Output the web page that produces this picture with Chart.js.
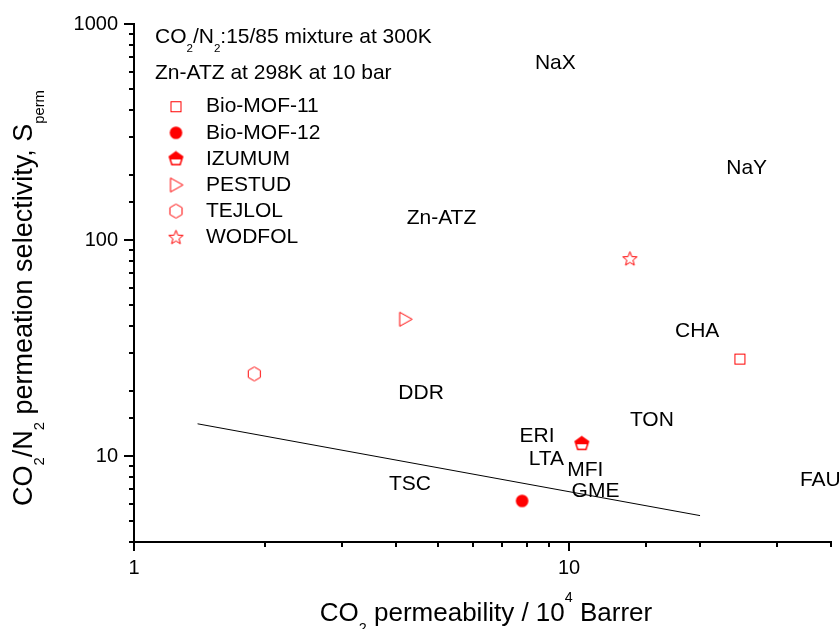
<!DOCTYPE html>
<html>
<head>
<meta charset="utf-8">
<script src="https://cdn.jsdelivr.net/npm/chart.js@4.4.0/dist/chart.umd.min.js"></script>
<style>
  html, body { margin: 0; padding: 0; background: #fff; }
  #wrap { width: 839px; height: 629px; }
</style>
</head>
<body>
<div id="wrap"><canvas id="chart" width="839" height="629"></canvas></div>
<script>
// MOF membranes (red markers)
const mofNames = ['Bio-MOF-11', 'Bio-MOF-12', 'IZUMUM', 'PESTUD', 'TEJLOL', 'WODFOL'];
const mofPermeability = [24.7, 7.8, 10.7, 4.2, 1.89, 13.8];
const mofSelectivity = [28.1, 6.2, 11.4, 43, 24, 82];
const mofMarkers = ['square', 'circle', 'pentagon', 'triangle', 'hexagon', 'star'];

// zeolite membranes (text labels)
const zeoliteNames = ['NaX', 'NaY', 'Zn-ATZ', 'CHA', 'DDR', 'TON', 'ERI', 'LTA', 'MFI', 'GME', 'TSC', 'FAU'];
const zeolitePermeability = [9.3, 25.6, 5.09, 19.7, 4.57, 15.5, 8.44, 8.87, 10.9, 11.5, 4.31, 37.8];
const zeoliteSelectivity = [657, 215, 126, 37.9, 19.6, 14.6, 12.4, 9.7, 8.6, 6.9, 7.4, 7.7];

// upper bound line
const boundPermeability = [1.4, 20];
const boundSelectivity = [14.1, 5.3];

const xTickLabels = [1, 10];
const yTickLabels = [10, 100, 1000];

const FONT = '"Liberation Sans", Arial, Helvetica, sans-serif';
const RED = '#ff0000';

function makeMarker(kind) {
  const c = document.createElement('canvas');
  c.width = 17; c.height = 17;
  const g = c.getContext('2d');
  const cx = 8.5, cy = 8.5;
  g.strokeStyle = RED; g.fillStyle = RED; g.lineWidth = 1;
  const poly = (n, r, start) => {
    g.beginPath();
    for (let i = 0; i < n; i++) {
      const a = start + i * 2 * Math.PI / n;
      const px = cx + r * Math.cos(a), py = cy + r * Math.sin(a);
      if (i === 0) g.moveTo(px, py); else g.lineTo(px, py);
    }
    g.closePath();
  };
  if (kind === 'square') {
    g.strokeRect(3.5, 3.5, 10, 10);
  } else if (kind === 'circle') {
    g.beginPath(); g.arc(cx, cy, 6.3, 0, Math.PI * 2); g.fill();
  } else if (kind === 'pentagon') {
    g.save();
    g.beginPath(); g.rect(0, 0, 17, cy + 0.5); g.clip();
    poly(5, 7, -Math.PI / 2); g.fill();
    g.restore();
    g.lineWidth = 1.5;
    poly(5, 7, -Math.PI / 2); g.stroke();
  } else if (kind === 'triangle') {
    g.beginPath();
    g.moveTo(cx + 7, cy); g.lineTo(cx - 5.5, cy - 7); g.lineTo(cx - 5.5, cy + 7); g.closePath();
    g.stroke();
  } else if (kind === 'hexagon') {
    poly(6, 7, -Math.PI / 2); g.stroke();
  } else if (kind === 'star') {
    g.beginPath();
    for (let i = 0; i < 10; i++) {
      const r = i % 2 === 0 ? 7.5 : 3.2;
      const a = -Math.PI / 2 + i * Math.PI / 5;
      const px = cx + r * Math.cos(a), py = cy + 0.5 + r * Math.sin(a);
      if (i === 0) g.moveTo(px, py); else g.lineTo(px, py);
    }
    g.closePath(); g.stroke();
  }
  return c;
}

const markerImages = mofMarkers.map(makeMarker);

function isPow10(v) {
  const l = Math.log10(v);
  return Math.abs(l - Math.round(l)) < 1e-9;
}

function drawRich(ctx, parts, x, y, size, align) {
  let total = 0;
  const items = parts.map(([t, m]) => {
    const s = m === 'n' ? size : size * 0.55;
    ctx.font = s + 'px ' + FONT;
    const w = ctx.measureText(t).width;
    total += w;
    return { t, m, s, w };
  });
  let cx = align === 'center' ? x - total / 2 : x;
  ctx.textAlign = 'left';
  ctx.textBaseline = 'alphabetic';
  items.forEach(p => {
    ctx.font = p.s + 'px ' + FONT;
    const dy = p.m === 'sub' ? size * 0.45 : p.m === 'sup' ? -size * 0.72 : 0;
    ctx.fillText(p.t, cx, y + dy);
    cx += p.w;
  });
}

const extras = {
  id: 'extras',
  afterDraw(chart) {
    const ctx = chart.ctx;
    const area = chart.chartArea;
    const xs = chart.scales.x, ys = chart.scales.y;
    ctx.save();

    // tick marks, major longer than minor
    ctx.strokeStyle = '#000';
    ctx.lineWidth = 2;
    ctx.beginPath();
    xs.ticks.forEach(t => {
      const p = Math.round(xs.getPixelForValue(t.value));
      ctx.moveTo(p, area.bottom);
      ctx.lineTo(p, area.bottom + (isPow10(t.value) ? 9 : 5));
    });
    ys.ticks.forEach(t => {
      const p = Math.round(ys.getPixelForValue(t.value));
      ctx.moveTo(area.left, p);
      ctx.lineTo(area.left - (isPow10(t.value) ? 10 : 5), p);
    });
    ctx.stroke();

    // zeolite labels
    ctx.fillStyle = '#000';
    ctx.font = '21px ' + FONT;
    ctx.textAlign = 'center';
    ctx.textBaseline = 'middle';
    zeoliteNames.forEach((n, i) => {
      ctx.fillText(n, xs.getPixelForValue(zeolitePermeability[i]), ys.getPixelForValue(zeoliteSelectivity[i]));
    });

    // header notes
    drawRich(ctx, [['CO', 'n'], ['2', 'sub'], ['/N', 'n'], ['2', 'sub'], [':15/85 mixture at 300K', 'n']],
      area.left + 21, area.top + 19, 21, 'left');
    drawRich(ctx, [['Zn-ATZ at 298K at 10 bar', 'n']], area.left + 21, area.top + 54.5, 21, 'left');

    // legend
    mofNames.forEach((n, i) => {
      const yy = area.top + 82.7 + i * 26.1;
      ctx.drawImage(markerImages[i], area.left + 42 - 8.5, yy - 8.5);
      ctx.fillStyle = '#000';
      ctx.font = '21px ' + FONT;
      ctx.textAlign = 'left';
      ctx.textBaseline = 'middle';
      ctx.fillText(n, area.left + 72, yy);
    });

    // axis titles
    ctx.fillStyle = '#000';
    drawRich(ctx, [['CO', 'n'], ['2', 'sub'], [' permeability / 10', 'n'], ['4', 'sup'], [' Barrer', 'n']],
      486, 621, 26, 'center');
    ctx.save();
    ctx.translate(32, 298);
    ctx.rotate(-Math.PI / 2);
    drawRich(ctx, [['CO', 'n'], ['2', 'sub'], ['/N', 'n'], ['2', 'sub'], [' permeation selectivity, S', 'n'], ['perm', 'sub']],
      0, 0, 27, 'center');
    ctx.restore();

    ctx.restore();
  }
};

const datasets = mofNames.map((n, i) => ({
  label: n,
  data: [{ x: mofPermeability[i], y: mofSelectivity[i] }],
  pointStyle: markerImages[i],
  pointRadius: 7,
  pointHoverRadius: 7,
  showLine: false
}));
datasets.push({
  label: 'bound',
  data: boundPermeability.map((x, i) => ({ x: x, y: boundSelectivity[i] })),
  showLine: true,
  borderColor: '#000',
  borderWidth: 1,
  pointRadius: 0,
  pointHoverRadius: 0
});

const tickFont = { family: FONT, size: 20 };

new Chart(document.getElementById('chart'), {
  type: 'scatter',
  data: { datasets: datasets },
  options: {
    responsive: false,
    animation: false,
    events: [],
    layout: { padding: { top: 24, right: 1, left: 0, bottom: 0 } },
    plugins: {
      legend: { display: false },
      tooltip: { enabled: false },
      title: { display: false }
    },
    scales: {
      x: {
        type: 'logarithmic',
        min: 1,
        max: 40,
        afterFit(s) { s.height = 87; s.paddingLeft = 0; s.paddingRight = 0; },
        grid: { display: false, drawTicks: false },
        border: { display: true, color: '#000', width: 2 },
        ticks: {
          autoSkip: false,
          maxRotation: 0,
          padding: 14,
          color: '#000',
          font: tickFont,
          callback: v => xTickLabels.some(t => Math.abs(t - v) < 1e-9) ? String(v) : ''
        }
      },
      y: {
        type: 'logarithmic',
        min: 4,
        max: 1000,
        afterFit(s) { s.width = 134; s.paddingTop = 0; s.paddingBottom = 0; },
        grid: { display: false, drawTicks: false },
        border: { display: true, color: '#000', width: 2 },
        ticks: {
          autoSkip: false,
          padding: 16,
          color: '#000',
          font: tickFont,
          callback: v => yTickLabels.some(t => Math.abs(t - v) < 1e-9) ? String(v) : ''
        }
      }
    }
  },
  plugins: [extras]
});
</script>
</body>
</html>
